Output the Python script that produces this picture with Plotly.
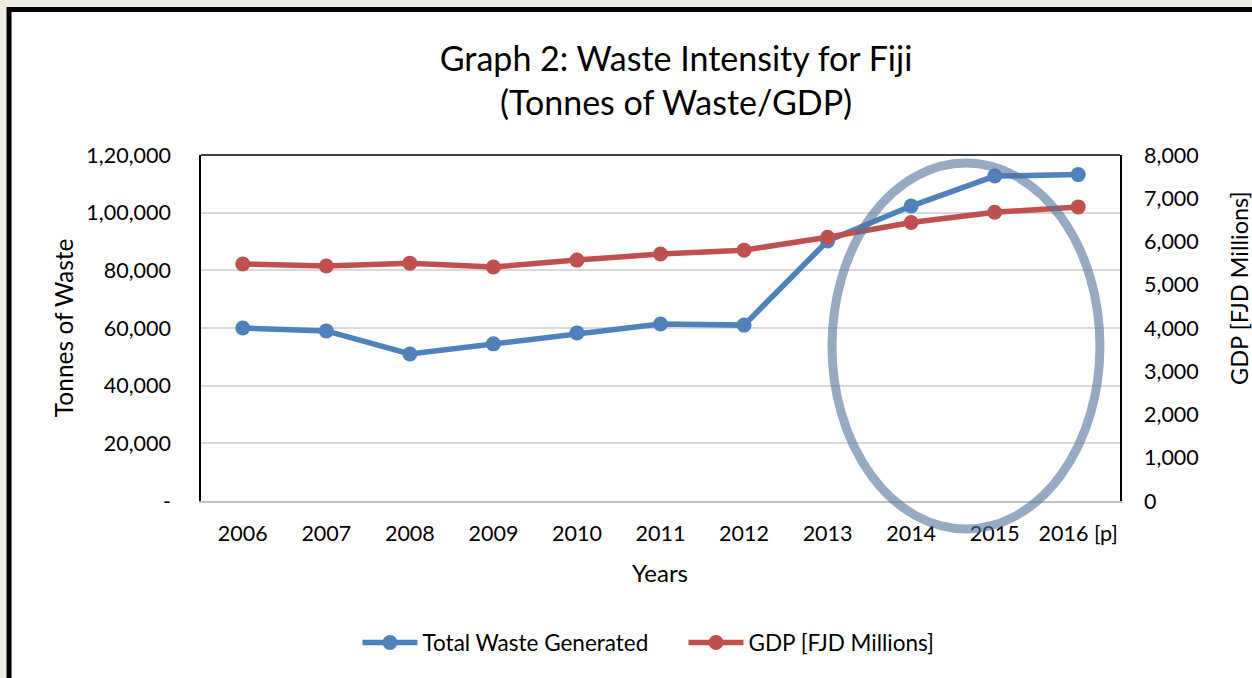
"""
Waste intensity chart for Fiji: tonnes of waste vs GDP, two y axes.
"""

import plotly.graph_objects as go

years = ["2006", "2007", "2008", "2009", "2010", "2011", "2012", "2013", "2014", "2015", "2016 [p]"]
total_waste = [60000, 59000, 51000, 54500, 58300, 61400, 61000, 90200, 102300, 112700, 113200]
gdp_fjd_millions = [5480, 5435, 5500, 5410, 5570, 5710, 5800, 6100, 6440, 6675, 6800]

waste_ticks = [0, 20000, 40000, 60000, 80000, 100000, 120000]
waste_ticktext = ["-", "20,000", "40,000", "60,000", "80,000", "1,00,000", "1,20,000"]
gdp_ticks = [0, 1000, 2000, 3000, 4000, 5000, 6000, 7000, 8000]
gdp_ticktext = ["0", "1,000", "2,000", "3,000", "4,000", "5,000", "6,000", "7,000", "8,000"]

BLUE = "#4F81BD"
RED = "#C0504D"
FONT = "Lato, Carlito, 'Open Sans', sans-serif"

fig = go.Figure()
fig.add_trace(go.Scatter(
    x=years, y=total_waste, name="Total Waste Generated",
    mode="lines+markers",
    line=dict(color=BLUE, width=5.5),
    marker=dict(color=BLUE, size=15),
    yaxis="y",
))
fig.add_trace(go.Scatter(
    x=years, y=gdp_fjd_millions, name="GDP [FJD Millions]",
    mode="lines+markers",
    line=dict(color=RED, width=5.5),
    marker=dict(color=RED, size=15),
    yaxis="y2",
))

fig.update_layout(
    width=1252, height=678,
    margin=dict(l=201, r=132, t=155, b=177),
    paper_bgcolor="#EEEBE0",
    plot_bgcolor="white",
    font=dict(family=FONT, size=21.5, color="#000000"),
    title=dict(
        text="Graph 2: Waste Intensity for Fiji<br>(Tonnes of Waste/GDP)",
        x=0.54, xref="container", xanchor="center",
        y=0.895, yref="container", yanchor="middle",
        font=dict(size=34),
    ),
    xaxis=dict(
        type="category", range=[-0.5, 10.5],
        showgrid=False, showline=True, linecolor="#BFBFBF", linewidth=1.5,
        ticks="", ticklabelstandoff=12, zeroline=False,
    ),
    yaxis=dict(
        range=[0, 120000], tickvals=waste_ticks, ticktext=waste_ticktext,
        showgrid=True, gridcolor="#D9D9D9", gridwidth=1.5,
        showline=True, linecolor="black", linewidth=1.5,
        zeroline=False, ticks="", ticklabelstandoff=24,
    ),
    yaxis2=dict(
        range=[0, 8000], tickvals=gdp_ticks, ticktext=gdp_ticktext,
        overlaying="y", side="right", showgrid=False,
        showline=True, linecolor="black", linewidth=1.5,
        zeroline=False, ticks="", ticklabelstandoff=18,
    ),
    legend=dict(
        orientation="h", x=0.525, xanchor="center", y=-0.41, yanchor="middle",
        bgcolor="rgba(0,0,0,0)", itemwidth=55, font=dict(size=22.5),
        traceorder="normal", entrywidth=256, entrywidthmode="pixels",
    ),
    showlegend=True,
)

# outer white card with thick black frame (runs off the right/bottom edges)
fig.add_shape(type="rect", xref="paper", yref="paper",
              x0=-0.2089, x1=1.152, y0=-0.546, y1=1.4205,
              line=dict(color="black", width=5), fillcolor="white", layer="below")
# top edge of plot area
fig.add_shape(type="line", xref="paper", yref="paper",
              x0=0, x1=1, y0=1, y1=1, line=dict(color="black", width=1.5))
# highlight ellipse around 2013-2016 (spills below the x axis)
fig.add_shape(type="circle", xref="paper", yref="paper",
              x0=0.6866, x1=0.9782, y0=-0.0809, y1=0.9769,
              line=dict(color="rgba(80,113,155,0.6)", width=9), layer="above")

fig.add_annotation(text="Tonnes of Waste", xref="paper", yref="paper",
                   x=-0.150, y=0.5, textangle=-90, showarrow=False,
                   xanchor="center", yanchor="middle", font=dict(size=24.5))
fig.add_annotation(text="GDP [FJD Millions]", xref="paper", yref="paper",
                   x=1.1295, y=0.6156, textangle=-90, showarrow=False,
                   xanchor="center", yanchor="middle", font=dict(size=23.5))
fig.add_annotation(text="Years", xref="paper", yref="paper",
                   x=0.4995, y=-0.208, showarrow=False,
                   xanchor="center", yanchor="middle", font=dict(size=24))

fig.write_html("out.html", config={"displayModeBar": False},
               post_script="document.body.style.margin='0';")
